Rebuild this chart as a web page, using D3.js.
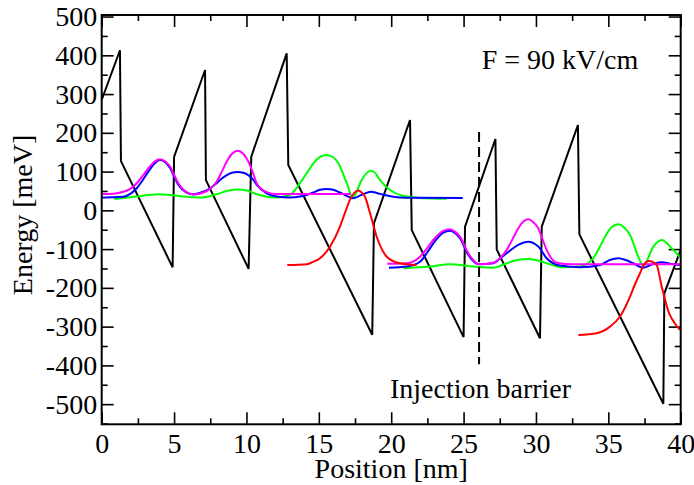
<!DOCTYPE html>
<html>
<head>
<meta charset="utf-8">
<script src="https://cdn.jsdelivr.net/npm/d3@7"></script>
<style>
  body { margin: 0; background: #fff; }
  svg { display: block; }
  text { font-family: "Liberation Serif", "Times New Roman", serif; fill: #000; }
</style>
</head>
<body>
<svg id="chart" width="694" height="485"></svg>
<script>
// Axis ticks
const xMajorTicks = [0, 5, 10, 15, 20, 25, 30, 35, 40];
const xMinorTicks = [2.5, 7.5, 12.5, 17.5, 22.5, 27.5, 32.5, 37.5];
const yMajorTicks = [-500, -400, -300, -200, -100, 0, 100, 200, 300, 400, 500];
const yMinorTicks = [-550, -450, -350, -250, -150, -50, 50, 150, 250, 350, 450];

// Conduction band edge under bias [position nm, energy meV]
const bandEdge = [
  [0, 285], [1.26, 413], [1.33, 127], [4.9, -147], [5.0, 138], [7.14, 362],
  [7.2, 78], [10.15, -151], [10.33, 138], [12.78, 405], [12.89, 117],
  [18.69, -321], [18.81, -33], [21.3, 233], [21.42, -51], [25.0, -327],
  [25.1, -42], [27.2, 184], [27.29, -101], [30.28, -330], [30.4, -42],
  [32.9, 220], [33.0, -62], [38.8, -499], [38.87, -214], [40, -102]
];

// Moduli squared of the subband wavefunctions, offset by their energies
const magentaP1 = [
  [0, 42], [0.8, 43], [1.49, 48], [2.0, 56], [2.42, 70], [2.85, 90], [3.22, 108], [3.6, 124],
  [4.03, 132], [4.4, 126], [4.72, 113], [5.0, 92], [5.29, 70], [5.87, 47], [6.33, 41],
  [7.02, 46], [7.5, 56], [7.94, 74], [8.3, 100], [8.64, 126], [9.0, 146], [9.4, 154],
  [9.78, 146], [10.13, 126], [10.45, 97], [10.71, 70], [11.4, 47], [12.09, 42],
  [13.5, 42], [17.2, 42]
];
const blueP1 = [
  [0, 33], [0.8, 33.5], [1.49, 35], [2.0, 43], [2.42, 57], [2.85, 79], [3.22, 100], [3.6, 119],
  [4.03, 130], [4.4, 124], [4.72, 109], [5.0, 88], [5.29, 66], [5.87, 46], [6.33, 41.5],
  [7.02, 48], [7.5, 57], [7.94, 70], [8.3, 82], [8.64, 91], [9.0, 97], [9.4, 99],
  [9.78, 97], [10.13, 91], [10.45, 80], [10.71, 66], [11.4, 44], [12.09, 35.5],
  [13.0, 33], [13.7, 35.5], [14.62, 46], [15.08, 53], [15.54, 55], [16.0, 53],
  [16.46, 46], [17.0, 36], [17.34, 31], [17.96, 40], [18.6, 48], [19.0, 45],
  [19.46, 40], [20.38, 34], [21.5, 32.5], [24.94, 32]
];
const greenP1 = [
  [0.87, 29.5], [2.42, 35.5], [3.2, 39.5], [4.03, 41.5], [4.8, 39.5], [5.64, 35.5],
  [6.79, 33], [7.94, 41.5], [8.7, 50.5], [9.4, 54], [10.1, 50.5], [10.71, 41.5],
  [12.09, 33], [13.0, 39.5], [13.7, 70], [14.2, 98], [14.62, 121.5], [15.08, 138],
  [15.54, 143], [16.0, 137], [16.35, 121.5], [16.93, 70], [17.34, 33], [17.96, 78],
  [18.3, 96], [18.6, 102], [18.9, 96], [19.23, 78], [19.92, 52.5], [20.84, 37],
  [21.99, 32], [23.83, 30]
];
const redP1 = [
  [12.82, -141], [14.16, -139], [14.6, -133], [15.08, -123.5], [15.77, -94],
  [16.46, -42], [16.8, -7], [17.15, 27], [17.45, 45], [17.73, 51], [17.96, 46],
  [18.19, 35], [18.54, -7.5], [19.0, -68], [19.35, -100], [19.69, -119.5],
  [20.61, -136.5], [21.76, -141]
];

const magentaP2 = [
  [19.73, -138], [21.07, -136.5], [21.99, -119.5], [22.5, -97], [22.91, -76.5],
  [23.6, -53], [24.06, -49], [24.4, -55], [24.75, -68], [25.33, -111], [26.07, -139],
  [27.05, -135], [27.5, -124], [27.98, -102], [28.4, -73], [28.78, -46], [29.1, -30],
  [29.47, -23], [29.8, -30], [30.16, -46], [30.45, -74], [30.74, -102], [31.43, -135],
  [32.58, -139], [36.0, -139], [40, -139]
];
const blueP2 = [
  [19.85, -148], [21.07, -145], [21.99, -132.5], [22.5, -108], [22.91, -85],
  [23.6, -57.5], [24.06, -52.5], [24.4, -58], [24.75, -72], [25.33, -115],
  [26.07, -139], [27.05, -136.5], [27.5, -125], [27.98, -110.5], [28.78, -89],
  [29.47, -81], [30.16, -93.5], [30.74, -123.5], [31.66, -142.5], [33.05, -147],
  [34.43, -141], [35.1, -128], [35.69, -123.5], [36.2, -128], [36.72, -136.5],
  [37.42, -148], [38.11, -138.5], [38.69, -134], [39.38, -138.5], [39.95, -141]
];
const greenP2 = [
  [20.84, -149.5], [22.68, -145], [24.06, -139], [25.67, -145], [27.05, -148],
  [27.98, -136.5], [28.7, -128], [29.47, -125.5], [30.2, -130], [30.74, -136.5],
  [31.89, -147], [33.05, -145], [33.96, -123.5], [34.4, -95], [34.77, -68],
  [35.2, -44], [35.69, -36], [36.1, -44], [36.5, -63.5], [37.07, -119.5],
  [37.42, -143.5], [38.11, -93.5], [38.69, -76.5], [39.38, -98], [39.95, -121]
];
const redP2 = [
  [32.93, -321.5], [34.2, -317], [34.7, -310], [35.12, -300], [35.81, -274],
  [36.5, -222.5], [36.85, -190], [37.19, -162], [37.5, -138], [37.76, -130.5],
  [38.05, -133], [38.34, -141], [38.69, -197], [39.2, -265.5], [39.6, -292],
  [39.95, -308.5]
];

// Injection barrier marker
const barrierX = 26.07;
const barrierSpan = [-397, 202];

const xDomain = [0, 40];
const yDomain = [-552, 504];

const svg = d3.select("#chart");
const plotLeft = 101.7, plotRight = 680.7, plotTop = 15, plotBottom = 424.3;

const x = d3.scaleLinear().domain(xDomain).range([plotLeft, plotRight]);
const y = d3.scaleLinear().domain(yDomain).range([plotBottom, plotTop]);

const fontSize = 28;
const majorLen = 12, minorLen = 6;

// Axes with inward ticks on all four sides
function styleAxis(g) {
  g.select(".domain").remove();
  g.selectAll(".tick line").attr("stroke", "#000").attr("stroke-width", 1.6);
  g.selectAll(".tick text").attr("font-size", fontSize)
    .attr("font-family", '"Liberation Serif", "Times New Roman", serif');
}

svg.append("g").attr("transform", `translate(0,${plotBottom})`)
  .call(d3.axisBottom(x).tickValues(xMajorTicks).tickSize(-majorLen).tickPadding(9).tickFormat(d3.format("d")))
  .call(styleAxis);
svg.append("g").attr("transform", `translate(0,${plotBottom})`)
  .call(d3.axisBottom(x).tickValues(xMinorTicks).tickSize(-minorLen).tickFormat(""))
  .call(styleAxis);
svg.append("g").attr("transform", `translate(0,${plotTop})`)
  .call(d3.axisTop(x).tickValues(xMajorTicks).tickSize(-majorLen).tickFormat(""))
  .call(styleAxis);
svg.append("g").attr("transform", `translate(0,${plotTop})`)
  .call(d3.axisTop(x).tickValues(xMinorTicks).tickSize(-minorLen).tickFormat(""))
  .call(styleAxis);

svg.append("g").attr("transform", `translate(${plotLeft},0)`)
  .call(d3.axisLeft(y).tickValues(yMajorTicks).tickSize(-majorLen).tickPadding(4.5).tickFormat(d => d < 0 ? "-" + Math.abs(d) : String(d)))
  .call(styleAxis);
svg.append("g").attr("transform", `translate(${plotLeft},0)`)
  .call(d3.axisLeft(y).tickValues(yMinorTicks).tickSize(-minorLen).tickFormat(""))
  .call(styleAxis);
svg.append("g").attr("transform", `translate(${plotRight},0)`)
  .call(d3.axisRight(y).tickValues(yMajorTicks).tickSize(-majorLen).tickFormat(""))
  .call(styleAxis);
svg.append("g").attr("transform", `translate(${plotRight},0)`)
  .call(d3.axisRight(y).tickValues(yMinorTicks).tickSize(-minorLen).tickFormat(""))
  .call(styleAxis);

// Plot curves
svg.append("clipPath").attr("id", "plotClip")
  .append("rect").attr("x", plotLeft).attr("y", plotTop)
  .attr("width", plotRight - plotLeft).attr("height", plotBottom - plotTop);
const plot = svg.append("g").attr("clip-path", "url(#plotClip)");

const straight = d3.line().x(d => x(d[0])).y(d => y(d[1]));
const smooth = d3.line().x(d => x(d[0])).y(d => y(d[1])).curve(d3.curveMonotoneX);

plot.append("path").datum(bandEdge).attr("d", straight)
  .attr("fill", "none").attr("stroke", "#000").attr("stroke-width", 2).attr("stroke-linejoin", "miter");

const wavefunctions = [
  { data: greenP1, color: "#00ff00" },
  { data: greenP2, color: "#00ff00" },
  { data: blueP1, color: "#0000ff" },
  { data: blueP2, color: "#0000ff" },
  { data: magentaP1, color: "#ff00ff" },
  { data: magentaP2, color: "#ff00ff" },
  { data: redP1, color: "#ff0000" },
  { data: redP2, color: "#ff0000" }
];
plot.selectAll("path.wf").data(wavefunctions).join("path")
  .attr("class", "wf")
  .attr("d", d => smooth(d.data))
  .attr("fill", "none").attr("stroke", d => d.color).attr("stroke-width", 2);

// Injection barrier position
plot.append("line")
  .attr("x1", x(barrierX)).attr("x2", x(barrierX))
  .attr("y1", y(barrierSpan[1])).attr("y2", y(barrierSpan[0]))
  .attr("stroke", "#000").attr("stroke-width", 2).attr("stroke-dasharray", "10,5");

// Frame
svg.append("rect").attr("x", plotLeft).attr("y", plotTop)
  .attr("width", plotRight - plotLeft).attr("height", plotBottom - plotTop)
  .attr("fill", "none").attr("stroke", "#000").attr("stroke-width", 2);

// Labels
svg.append("text").attr("x", (plotLeft + plotRight) / 2).attr("y", 478)
  .attr("text-anchor", "middle").attr("font-size", fontSize).text("Position [nm]");
svg.append("text").attr("transform", `translate(32,215) rotate(-90)`)
  .attr("text-anchor", "middle").attr("font-size", fontSize).text("Energy [meV]");
svg.append("text").attr("x", 481.7).attr("y", 69)
  .attr("font-size", fontSize).text("F = 90 kV/cm");
svg.append("text").attr("x", 390).attr("y", 398)
  .attr("font-size", fontSize).text("Injection barrier");
</script>
</body>
</html>
